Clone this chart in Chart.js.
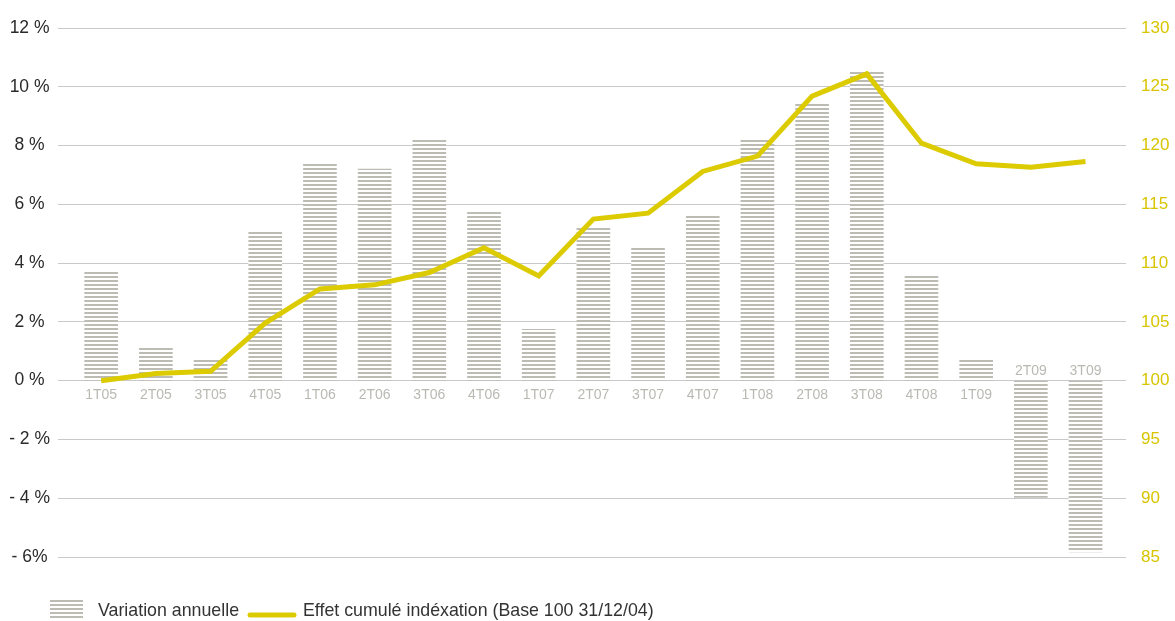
<!DOCTYPE html>
<html><head><meta charset="utf-8">
<script src="https://cdn.jsdelivr.net/npm/chart.js@4.4.0/dist/chart.umd.min.js"></script>
<style>html,body{margin:0;padding:0;background:#fff}#wrap{width:1175px;height:621px;position:relative}</style>
</head><body><div id="wrap"><canvas id="c" width="1175" height="621"></canvas></div>
<script>
const categories = ['1T05','2T05','3T05','4T05','1T06','2T06','3T06','4T06','1T07','2T07','3T07','4T07','1T08','2T08','3T08','4T08','1T09','2T09','3T09'];
const variationAnnuelle = [3.7, 1.1, 0.7, 5.1, 7.4, 7.2, 8.2, 5.75, 1.75, 5.25, 4.5, 5.6, 8.25, 9.4, 10.55, 3.6, 0.72, -3.97, -5.83];
const effetCumule = [100.0, 100.6, 100.8, 104.9, 107.8, 108.15, 109.2, 111.3, 108.9, 113.75, 114.25, 117.8, 119.1, 124.2, 126.1, 120.2, 118.45, 118.15, 118.65];
const leftTickValues = [12, 10, 8, 6, 4, 2, 0, -2, -4, -6];
const leftTickLabels = ['12 %', '10 %', '8 %', '6 %', '4 %', '2 %', '0 %', '- 2 %', '- 4 %', '- 6%'];
const rightTickValues = [130, 125, 120, 115, 110, 105, 100, 95, 90, 85];
const legendLabels = ['Variation annuelle', 'Effet cumulé indéxation (Base 100 31/12/04)'];

const FONT = "'Liberation Sans', Arial, Helvetica, sans-serif";
const BAR_GREY = '#bcbcb4';
const YELLOW = '#dccb00';
const YELLOW_TXT = '#d8c500';

function makeStripes() {
  const p = document.createElement('canvas');
  p.width = 4; p.height = 4;
  const g = p.getContext('2d');
  g.fillStyle = '#ffffff'; g.fillRect(0, 0, 4, 4);
  g.fillStyle = BAR_GREY; g.fillRect(0, 0, 4, 2);
  return document.getElementById('c').getContext('2d').createPattern(p, 'repeat');
}
const stripes = makeStripes();

const catLabelPlugin = {
  id: 'catLabels',
  afterDatasetsDraw(chart) {
    const ctx = chart.ctx, xs = chart.scales.x, ys = chart.scales.y;
    const y0 = ys.getPixelForValue(0);
    ctx.save();
    ctx.font = '14px ' + FONT;
    ctx.fillStyle = '#b9b9b4';
    ctx.textAlign = 'center';
    ctx.textBaseline = 'middle';
    categories.forEach((c, i) => {
      const x = xs.getPixelForValue(i);
      const y = variationAnnuelle[i] < 0 ? y0 - 10 : y0 + 14;
      ctx.fillText(c, x, y);
    });
    ctx.restore();
  }
};

const legendPlugin = {
  id: 'customLegend',
  afterDraw(chart) {
    const ctx = chart.ctx;
    const cy = 611.5;
    ctx.save();
    ctx.fillStyle = stripes;
    ctx.fillRect(50, 600, 33, 18);
    ctx.font = '17.8px ' + FONT;
    ctx.fillStyle = '#333333';
    ctx.textBaseline = 'middle';
    ctx.textAlign = 'left';
    ctx.fillText(legendLabels[0], 98, cy);
    ctx.strokeStyle = YELLOW;
    ctx.lineWidth = 5;
    ctx.lineCap = 'round';
    ctx.beginPath();
    ctx.moveTo(250, 615);
    ctx.lineTo(294, 615);
    ctx.stroke();
    ctx.fillStyle = '#333333';
    ctx.fillText(legendLabels[1], 303, cy);
    ctx.restore();
  }
};

new Chart(document.getElementById('c'), {
  data: {
    datasets: [
      {
        type: 'line',
        label: legendLabels[1],
        data: effetCumule.map((v, i) => ({ x: i, y: v })),
        yAxisID: 'y2',
        borderColor: YELLOW,
        borderWidth: 5,
        pointRadius: 0,
        tension: 0,
        borderJoinStyle: 'miter',
        order: 0
      },
      {
        type: 'bar',
        label: legendLabels[0],
        data: variationAnnuelle.map((v, i) => ({ x: i, y: v })),
        yAxisID: 'y',
        backgroundColor: stripes,
        borderWidth: 0,
        barThickness: 33,
        order: 1
      }
    ]
  },
  options: {
    responsive: false,
    animation: false,
    devicePixelRatio: 1,
    layout: { padding: { top: 28, bottom: 64, left: 0, right: 0 } },
    plugins: { legend: { display: false }, tooltip: { enabled: false } },
    scales: {
      x: {
        type: 'linear', min: -0.79, max: 18.74, offset: false, display: false,
        grid: { offset: false }
      },
      y: {
        type: 'linear', position: 'left', min: -6, max: 12,
        afterFit(s) { s.width = 58; },
        afterBuildTicks(s) { s.ticks = leftTickValues.map(v => ({ value: v })); },
        border: { display: false },
        grid: { color: '#c9c9c9', lineWidth: 1, drawTicks: false },
        ticks: {
          crossAlign: 'center', padding: 8,
          color: '#2a2a2a', font: { family: FONT, size: 17.5 },
          callback: (v) => leftTickLabels[leftTickValues.indexOf(v)]
        }
      },
      y2: {
        type: 'linear', position: 'right', min: 85, max: 130,
        afterFit(s) { s.width = 49; },
        afterBuildTicks(s) { s.ticks = rightTickValues.map(v => ({ value: v })); },
        border: { display: false },
        grid: { display: false, drawTicks: false },
        ticks: {
          padding: 15, color: YELLOW_TXT, font: { family: FONT, size: 17 },
          callback: (v) => String(v)
        }
      }
    }
  },
  plugins: [catLabelPlugin, legendPlugin]
});
</script></body></html>
